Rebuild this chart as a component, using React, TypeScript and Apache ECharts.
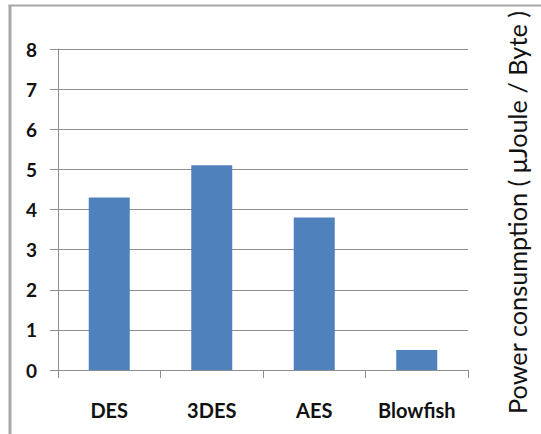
import React, { useEffect, useRef } from "react";
import * as echarts from "echarts";

// Power consumption per algorithm (μJoule / Byte)
const algorithms = ["DES", "3DES", "AES", "Blowfish"];
const consumption = [4.3, 5.1, 3.8, 0.5];
const yTicks = { min: 0, max: 8, interval: 1 };
const axisTitle = "Power consumption ( μJoule / Byte )";

const FONT = "Lato, 'Open Sans', sans-serif";
const GRID_GRAY = "#8e8e8e";

export default function App() {
  const ref = useRef<HTMLDivElement>(null);

  useEffect(() => {
    if (!ref.current) return;
    const chart = echarts.init(ref.current, null, { renderer: "svg" });
    chart.setOption({
      animation: false,
      backgroundColor: "#ffffff",
      grid: { left: 58, right: 73, top: 49, bottom: 64, containLabel: false },
      xAxis: {
        type: "category",
        data: algorithms,
        axisLine: { show: true, lineStyle: { color: GRID_GRAY, width: 1 } },
        axisTick: { show: true, length: 8, lineStyle: { color: GRID_GRAY } },
        axisLabel: {
          margin: 30,
          color: "#111",
          fontFamily: FONT,
          fontWeight: "bold",
          fontSize: 20,
        },
      },
      yAxis: {
        type: "value",
        min: yTicks.min,
        max: yTicks.max,
        interval: yTicks.interval,
        axisLine: { show: true, lineStyle: { color: GRID_GRAY, width: 1 } },
        axisTick: { show: true, length: 8, lineStyle: { color: GRID_GRAY } },
        splitLine: { show: true, lineStyle: { color: GRID_GRAY, width: 1 } },
        axisLabel: {
          margin: 21,
          color: "#111",
          fontFamily: FONT,
          fontWeight: "bold",
          fontSize: 19,
        },
      },
      series: [
        {
          type: "bar",
          data: consumption,
          barWidth: "40%",
          itemStyle: { color: "#4f81bd" },
        },
      ],
      graphic: [
        // frame around the chart (left and top edges)
        {
          type: "line",
          shape: { x1: 10, y1: 5, x2: 10, y2: 434 },
          style: { stroke: "#a8a8a8", lineWidth: 3 },
        },
        {
          type: "line",
          shape: { x1: 8.5, y1: 5.5, x2: 541, y2: 5.5 },
          style: { stroke: "#a8a8a8", lineWidth: 2 },
        },
        {
          type: "text",
          x: 517,
          y: 212.5,
          rotation: Math.PI / 2,
          style: {
            text: axisTitle,
            fontFamily: FONT,
            fontSize: 25.3,
            fill: "#111",
            align: "center",
            verticalAlign: "middle",
          },
        },
      ],
    });
    return () => chart.dispose();
  }, []);

  return (
    <div
      ref={ref}
      style={{ position: "absolute", left: 0, top: 0, width: 541, height: 434 }}
    />
  );
}
